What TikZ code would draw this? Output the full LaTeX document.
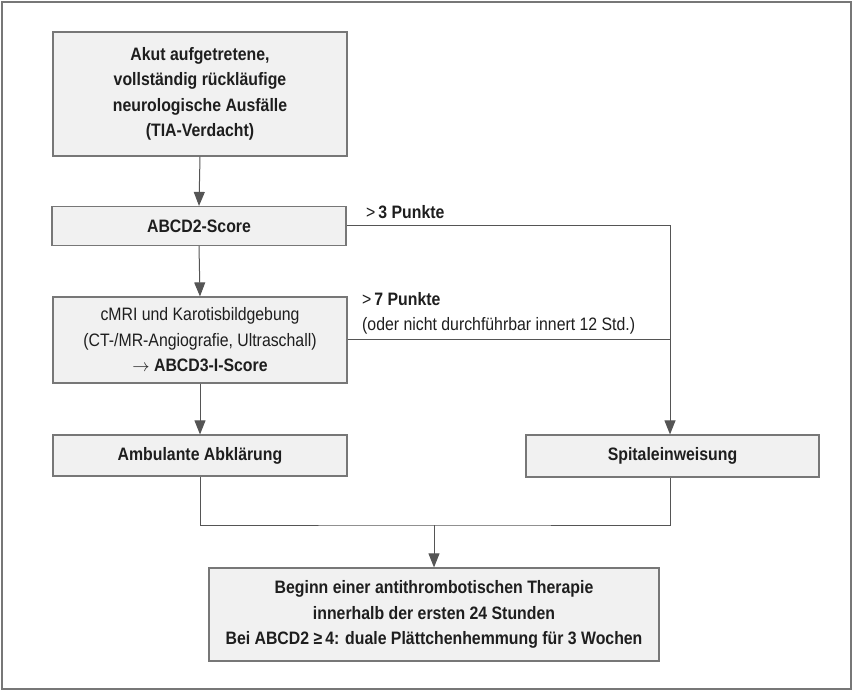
\documentclass[tikz,border=0pt]{standalone}
\usepackage{fontspec}
\setmainfont{Liberation Sans}[FakeStretch=0.88]
\usetikzlibrary{arrows.meta}
\definecolor{boxfill}{HTML}{F1F1F1}
\definecolor{boxline}{HTML}{777777}
\definecolor{conn}{HTML}{555555}
\definecolor{txt}{HTML}{1E1E1E}
\begin{document}
\begin{tikzpicture}[x=1pt,y=-1pt,
  box/.style={draw=boxline,fill=boxfill,line width=1.2pt,minimum width=294pt,align=center,
    inner sep=0pt,text=txt,font=\fontsize{18}{25.5}\selectfont},
  conline/.style={draw=conn,line width=1pt},
  arr/.style={conline,-{Triangle[length=14pt,width=11pt]}},
  lbl/.style={anchor=west,inner sep=0pt,text=txt,font=\fontsize{18}{20}\selectfont}]
\draw[draw=boxline,line width=1.2pt] (2,2) rectangle (851,689);
\useasboundingbox (0,0) rectangle (854,692);
\node[box,minimum height=124pt] (b1) at (200,94) {\bfseries Akut aufgetretene,\\\bfseries vollständig rückläufige\\\bfseries neurologische Ausfälle\\\bfseries (TIA-Verdacht)};
\node[box,minimum height=39pt] (b2) at (199,226) {\bfseries ABCD2-Score};
\node[box,minimum height=86pt] (b3) at (200,340) {cMRI und Karotisbildgebung\\(CT-/MR-Angiografie, Ultraschall)\\$\rightarrow$ \bfseries ABCD3-I-Score};
\node[box,minimum height=41pt] (b4) at (200,455.5) {\bfseries Ambulante Abklärung};
\node[box,minimum width=293pt,minimum height=42pt] (b5) at (672.5,456) {\bfseries Spitaleinweisung};
\node[box,minimum width=450pt,minimum height=93pt] (b6) at (434,614.5) {\bfseries Beginn einer antithrombotischen Therapie\\\bfseries innerhalb der ersten 24 Stunden\\\bfseries Bei ABCD2 ≥\,4: duale Plättchenhemmung für 3 Wochen};
\coordinate (rc) at (670,226);
\coordinate (j) at (434,525);
\node[lbl] (l1) at (366,212) {>\,\bfseries 3 Punkte};
\node[lbl] (l2) at (362,299) {>\,\bfseries 7 Punkte};
\node[lbl] (l3) at (362,326) {(oder nicht durchführbar innert 12 Std.)};
\draw[arr] (b1.south) -- (b2.north);
\draw[arr] (b2.south) -- (b3.north);
\draw[arr] (b3.south) -- (b4.north);
\draw[arr] (b2.east) -- (rc) -- (rc |- b5.north);
\draw[conline] (b3.east) -- (b3.east -| rc);
\draw[conline] (b4.south) |- (j) -- (j -| rc) -- (rc |- b5.south);
\draw[arr] (j) -- (b6.north);
\end{tikzpicture}
\end{document}
